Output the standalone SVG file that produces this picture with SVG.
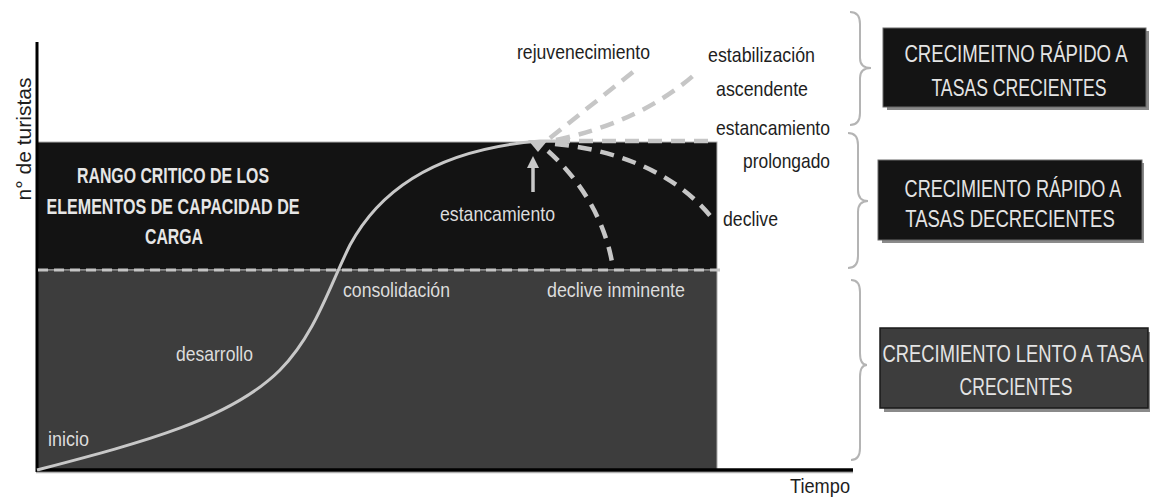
<svg xmlns="http://www.w3.org/2000/svg" width="1151" height="499" viewBox="0 0 1151 499">
<defs>
<style>
.lbl{font-family:"Liberation Sans",Arial,sans-serif;font-size:21px;fill:#1e1e1e}
.in{font-family:"Liberation Sans",Arial,sans-serif;font-size:21px;fill:#dcdcdc}
.bold{font-family:"Liberation Sans",Arial,sans-serif;font-size:22px;font-weight:bold;fill:#e6e6e6}
.box{font-family:"Liberation Sans",Arial,sans-serif;font-size:23px;fill:#e4e4e4;text-anchor:middle}
.dash{fill:none;stroke:#c6c6c6;stroke-width:4.5;stroke-dasharray:14 9}
.brace{fill:none;stroke:#b4b4b4;stroke-width:2}
.shadow{fill:#8a8a8a}
</style>
<marker id="ah" markerWidth="12" markerHeight="12" refX="2" refY="6" orient="auto" markerUnits="userSpaceOnUse">
<path d="M0,0 L12,6 L0,12 z" fill="#c8c8c8"/>
</marker>
</defs>
<rect width="1151" height="499" fill="#ffffff"/>

<g id="regions">
<rect x="37" y="142" width="680" height="128" fill="#131313" stroke="#b0b0b0" stroke-width="1"/>
<rect x="37" y="270" width="680" height="200" fill="#3d3d3d" stroke="#aaaaaa" stroke-width="1"/>
</g>

<g id="axes">
<line x1="37" y1="42" x2="37" y2="472" stroke="#000" stroke-width="3"/>
<line x1="36" y1="472.5" x2="853" y2="472.5" stroke="#b0b0b0" stroke-width="1.5"/>
<line x1="36" y1="470" x2="853" y2="470" stroke="#000" stroke-width="3.5"/>
<text class="lbl" transform="translate(31,139) rotate(-90)" text-anchor="middle" textLength="123" lengthAdjust="spacingAndGlyphs">n° de turistas</text>
<text class="lbl" x="790" y="493" textLength="60" lengthAdjust="spacingAndGlyphs">Tiempo</text>
</g>

<g id="connectors">
<line x1="38" y1="270" x2="720" y2="270" stroke="#c4c4c4" stroke-width="3" stroke-dasharray="10 6"/>
<path d="M37,470 C140,443 230,420 280,370 C315,335 330,285 350,245 C385,180 450,148 540,141 L556,141" fill="none" stroke="#c8c8c8" stroke-width="3"/>
<polygon points="528,140 548,140 538,152" fill="#c8c8c8"/>
<line x1="556" y1="141" x2="717" y2="141" class="dash"/>
<path d="M550,138 L638,68" class="dash"/>
<path d="M556,140 Q640,122 694,75" class="dash"/>
<path d="M555,144 C620,150 680,175 715,222" class="dash"/>
<path d="M548,151 C575,175 605,215 613,268" class="dash"/>
<line x1="533" y1="192" x2="533" y2="166" stroke="#c8c8c8" stroke-width="3.5" marker-end="url(#ah)"/>
</g>

<g id="labels">
<text class="bold" x="173" y="183" text-anchor="middle" textLength="192" lengthAdjust="spacingAndGlyphs">RANGO CRITICO DE LOS</text>
<text class="bold" x="173" y="214" text-anchor="middle" textLength="253" lengthAdjust="spacingAndGlyphs">ELEMENTOS DE CAPACIDAD DE</text>
<text class="bold" x="174" y="244" text-anchor="middle" textLength="58" lengthAdjust="spacingAndGlyphs">CARGA</text>
<text class="lbl" x="517" y="59" textLength="133" lengthAdjust="spacingAndGlyphs">rejuvenecimiento</text>
<text class="lbl" x="708" y="62" textLength="107" lengthAdjust="spacingAndGlyphs">estabilización</text>
<text class="lbl" x="716" y="96" textLength="92" lengthAdjust="spacingAndGlyphs">ascendente</text>
<text class="lbl" x="716" y="135" textLength="114" lengthAdjust="spacingAndGlyphs">estancamiento</text>
<text class="lbl" x="743" y="168" textLength="87" lengthAdjust="spacingAndGlyphs">prolongado</text>
<text class="lbl" x="723" y="226" textLength="55" lengthAdjust="spacingAndGlyphs">declive</text>
<text class="in" x="440" y="221" textLength="115" lengthAdjust="spacingAndGlyphs">estancamiento</text>
<text class="in" x="547" y="297" textLength="138" lengthAdjust="spacingAndGlyphs">declive inminente</text>
<text class="in" x="343" y="297" textLength="107" lengthAdjust="spacingAndGlyphs">consolidación</text>
<text class="in" x="176" y="361" textLength="77" lengthAdjust="spacingAndGlyphs">desarrollo</text>
<text class="in" x="48" y="446" textLength="41" lengthAdjust="spacingAndGlyphs">inicio</text>
</g>

<g id="braces">
<path class="brace" d="M850,12 Q860,12 860,24 L860,58 Q860,68 871,68 Q860,68 860,78 L860,113 Q860,125 850,125"/>
<path class="brace" d="M848,133 Q858,133 858,145 L858,190 Q858,201 868,201 Q858,201 858,212 L858,256 Q858,268 848,268"/>
<path class="brace" d="M851,280 Q860,280 860,292 L860,353 Q860,365 867,365 Q860,365 860,377 L860,448 Q860,460 851,460"/>
</g>

<g id="box1">
<rect class="shadow" x="887" y="31" width="262" height="79"/>
<rect x="883" y="28" width="263" height="79" fill="#141414" stroke="#6a6a6a" stroke-width="1"/>
<text class="box" transform="translate(1016,62) scale(0.8,1)" textLength="279" lengthAdjust="spacingAndGlyphs">CRECIMEITNO RÁPIDO A</text>
<text class="box" transform="translate(1019,96) scale(0.8,1)" textLength="219" lengthAdjust="spacingAndGlyphs">TASAS CRECIENTES</text>
</g>

<g id="box2">
<rect class="shadow" x="882" y="163" width="262" height="80"/>
<rect x="878" y="160" width="264" height="80" fill="#141414" stroke="#6a6a6a" stroke-width="1"/>
<text class="box" transform="translate(1013,197) scale(0.8,1)" textLength="271" lengthAdjust="spacingAndGlyphs">CRECIMIENTO RÁPIDO A</text>
<text class="box" transform="translate(1010,227) scale(0.8,1)" textLength="262" lengthAdjust="spacingAndGlyphs">TASAS DECRECIENTES</text>
</g>

<g id="box3">
<rect class="shadow" x="884" y="332" width="266" height="80"/>
<rect x="880" y="328" width="268" height="80" fill="#3d3d3d" stroke="#1a1a1a" stroke-width="1.5"/>
<text class="box" transform="translate(1013,362) scale(0.8,1)" textLength="326" lengthAdjust="spacingAndGlyphs">CRECIMIENTO LENTO A TASA</text>
<text class="box" transform="translate(1016,395) scale(0.8,1)" textLength="141" lengthAdjust="spacingAndGlyphs">CRECIENTES</text>
</g>
</svg>
